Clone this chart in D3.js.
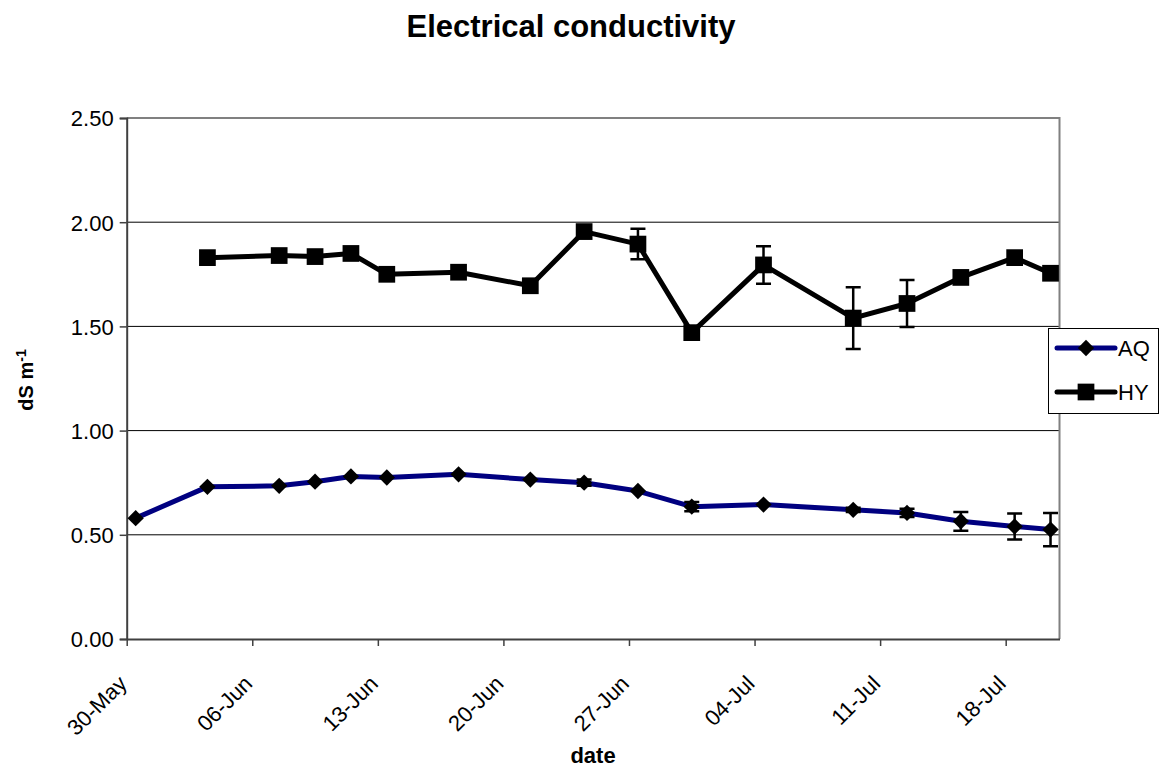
<!DOCTYPE html>
<html>
<head>
<meta charset="utf-8">
<script src="https://cdn.jsdelivr.net/npm/d3@7"></script>
<style>
  body { margin: 0; background: #fff; }
  text { font-family: "Liberation Sans", Arial, sans-serif; }
</style>
</head>
<body>
<div id="container"></div>
<script>

// data
var aqDates = ["2005-05-30","2005-06-03","2005-06-07","2005-06-09","2005-06-11","2005-06-13","2005-06-17","2005-06-21","2005-06-24","2005-06-27","2005-06-30","2005-07-04","2005-07-09","2005-07-12","2005-07-15","2005-07-18","2005-07-20"];
var aqValues = [0.58, 0.73, 0.735, 0.755, 0.78, 0.775, 0.79, 0.765, 0.75, 0.71, 0.635, 0.645, 0.62, 0.605, 0.565, 0.54, 0.525];
var aqErrors = [0, 0, 0, 0, 0, 0, 0, 0, 0.015, 0, 0.022, 0, 0.01, 0.02, 0.045, 0.062, 0.08];

var hyDates = ["2005-06-03","2005-06-07","2005-06-09","2005-06-11","2005-06-13","2005-06-17","2005-06-21","2005-06-24","2005-06-27","2005-06-30","2005-07-04","2005-07-09","2005-07-12","2005-07-15","2005-07-18","2005-07-20"];
var hyValues = [1.83, 1.84, 1.835, 1.85, 1.75, 1.76, 1.695, 1.955, 1.895, 1.47, 1.795, 1.54, 1.61, 1.735, 1.83, 1.755];
var hyErrors = [0, 0, 0, 0, 0, 0, 0, 0, 0.073, 0, 0.09, 0.148, 0.113, 0, 0, 0];

var xDomain = ["2005-05-30", "2005-07-21"];
var xTickDates = ["2005-05-30","2005-06-06","2005-06-13","2005-06-20","2005-06-27","2005-07-04","2005-07-11","2005-07-18"];
var yTicks = [0, 0.5, 1.0, 1.5, 2.0, 2.5];

var width = 1160, height = 769;
var plotLeft = 126.7, plotRight = 1059.5, plotTop = 118, plotBottom = 639;

var parse = d3.timeParse("%Y-%m-%d");
var fmt = d3.timeFormat("%d-%b");

var svg = d3.select("div#container")
  .append("svg")
  .attr("width", width)
  .attr("height", height);

var x = d3.scaleTime()
  .domain(xDomain.map(parse))
  .range([plotLeft, plotRight]);

var y = d3.scaleLinear()
  .domain([0, 2.5])
  .range([plotBottom, plotTop]);

// points sit in the middle of their day
var px = function(s) { return x(d3.timeHour.offset(parse(s), 12)); };

// gridlines
svg.append("g").selectAll("line")
  .data(yTicks.filter(function(v) { return v > 0 && v < 2.5; }))
  .enter().append("line")
  .attr("x1", plotLeft).attr("x2", plotRight)
  .attr("y1", function(d) { return y(d); })
  .attr("y2", function(d) { return y(d); })
  .attr("stroke", "#000").attr("stroke-width", 1);

// top and right border
svg.append("path")
  .attr("d", "M" + plotLeft + "," + plotTop + "H" + plotRight + "V" + plotBottom)
  .attr("fill", "none").attr("stroke", "#808080").attr("stroke-width", 2);

// y axis
var yAxis = svg.append("g")
  .attr("transform", "translate(" + plotLeft + ",0)")
  .call(d3.axisLeft(y).tickValues(yTicks).tickFormat(d3.format(".2f")).tickSize(7).tickPadding(6));
yAxis.select(".domain").attr("stroke", "#404040").attr("stroke-width", 2);
yAxis.selectAll(".tick line").attr("stroke", "#404040").attr("stroke-width", 1.5);
yAxis.selectAll("text").style("font-size", "22px").attr("fill", "#000").attr("dy", "0.36em");

// x axis
var xAxis = svg.append("g")
  .attr("transform", "translate(0," + plotBottom + ")")
  .call(d3.axisBottom(x).tickValues(xTickDates.map(parse)).tickFormat(fmt).tickSize(7).tickSizeOuter(0));
xAxis.select(".domain").attr("stroke", "#404040").attr("stroke-width", 2);
xAxis.selectAll(".tick line").attr("stroke", "#404040").attr("stroke-width", 1.5);
xAxis.selectAll("text")
  .style("font-size", "22px").attr("fill", "#000")
  .attr("text-anchor", "end")
  .attr("y", 0).attr("dy", 0)
  .attr("transform", "translate(1,46) rotate(-45)");

// series
function drawSeries(dates, values, errors, color, shape) {
  var data = dates.map(function(d, i) { return {d: d, v: values[i], e: errors[i]}; });
  var g = svg.append("g");

  var line = d3.line()
    .x(function(p) { return px(p.d); })
    .y(function(p) { return y(p.v); });

  g.append("path").datum(data)
    .attr("d", line)
    .attr("fill", "none").attr("stroke", color)
    .attr("stroke-width", 5).attr("stroke-linejoin", "round");

  var eb = data.filter(function(p) { return p.e > 0; });
  var cap = 7.5;
  g.selectAll(".err").data(eb).enter().append("path")
    .attr("d", function(p) {
      var cx = px(p.d), y1 = y(p.v + p.e), y2 = y(p.v - p.e);
      return "M" + cx + "," + y1 + "V" + y2 +
        "M" + (cx - cap) + "," + y1 + "H" + (cx + cap) +
        "M" + (cx - cap) + "," + y2 + "H" + (cx + cap);
    })
    .attr("fill", "none").attr("stroke", "#000").attr("stroke-width", 2.5);

  g.selectAll(".mk").data(data).enter().append("path")
    .attr("transform", function(p) { return "translate(" + px(p.d) + "," + y(p.v) + ")"; })
    .attr("d", shape)
    .attr("fill", "#000");
}

var diamond = d3.symbol().type(d3.symbolDiamond2).size(170)();
var square = d3.symbol().type(d3.symbolSquare).size(280)();

drawSeries(aqDates, aqValues, aqErrors, "#000080", diamond);
drawSeries(hyDates, hyValues, hyErrors, "#000", square);

// title
svg.append("text")
  .attr("x", 571).attr("y", 37)
  .attr("text-anchor", "middle")
  .style("font-size", "31px").style("font-weight", "bold")
  .text("Electrical conductivity");

// axis titles
svg.append("text")
  .attr("x", 593).attr("y", 763)
  .attr("text-anchor", "middle")
  .style("font-size", "22px").style("font-weight", "bold")
  .text("date");

var yl = svg.append("text")
  .attr("transform", "translate(33,380) rotate(-90)")
  .attr("text-anchor", "middle")
  .style("font-size", "20px").style("font-weight", "bold");
yl.append("tspan").text("dS m");
yl.append("tspan").attr("dy", "-0.5em").style("font-size", "14px").text("-1");

// legend
var lg = svg.append("g");
lg.append("rect")
  .attr("x", 1048.5).attr("y", 328.5).attr("width", 110).attr("height", 85)
  .attr("fill", "#fff").attr("stroke", "#000").attr("stroke-width", 1);

var legendItems = [
  {name: "AQ", color: "#000080", shape: diamond, y: 348},
  {name: "HY", color: "#000", shape: square, y: 392}
];
legendItems.forEach(function(it) {
  lg.append("line")
    .attr("x1", 1057).attr("x2", 1115).attr("y1", it.y).attr("y2", it.y)
    .attr("stroke", it.color).attr("stroke-width", 5).attr("stroke-linecap", "round");
  lg.append("path")
    .attr("transform", "translate(1086," + it.y + ")")
    .attr("d", it.shape).attr("fill", "#000");
  lg.append("text")
    .attr("x", 1118).attr("y", it.y).attr("dy", "0.36em")
    .style("font-size", "22px")
    .text(it.name);
});

</script>
</body>
</html>
